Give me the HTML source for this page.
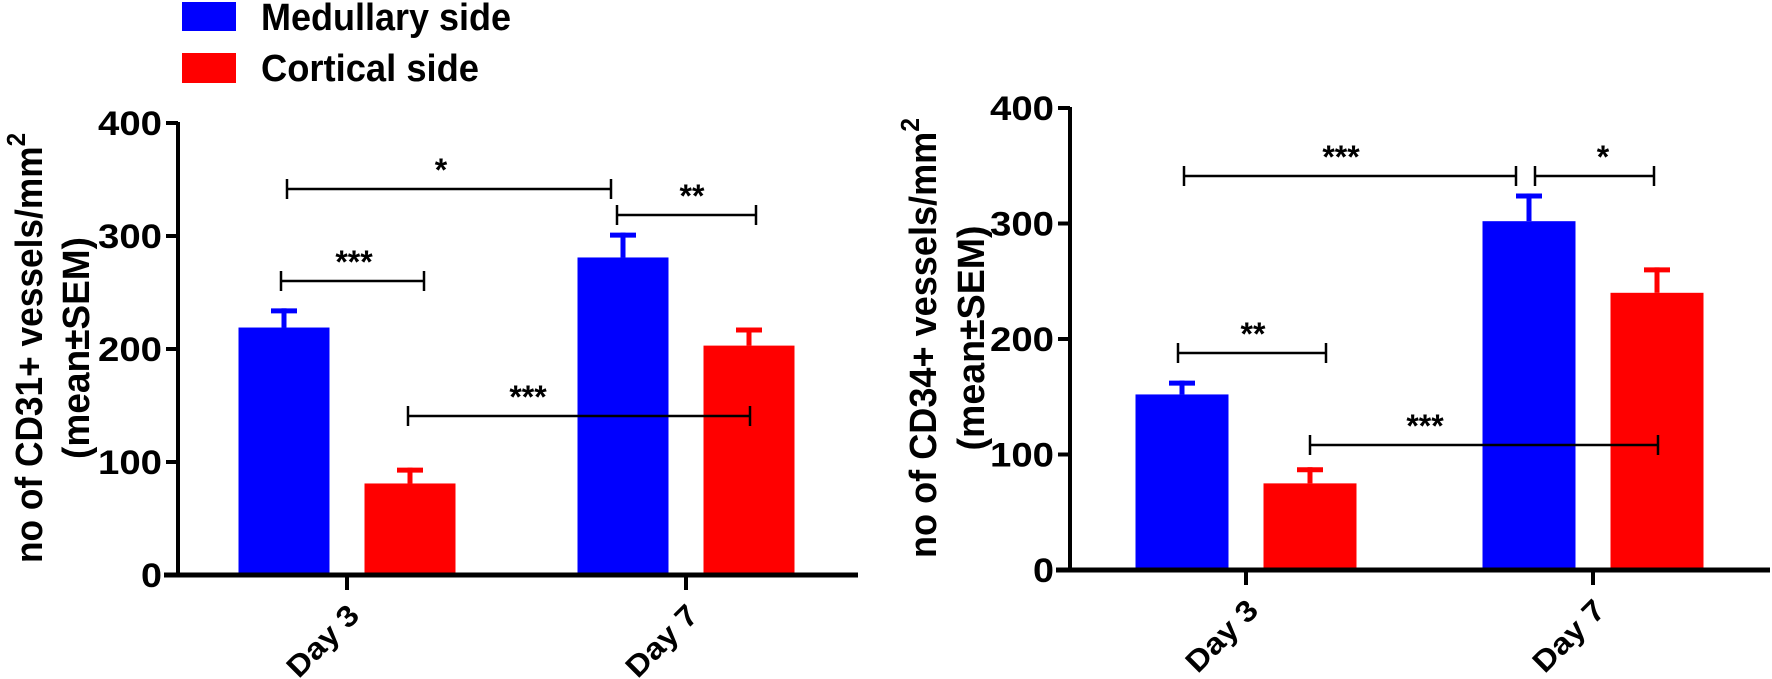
<!DOCTYPE html>
<html><head><meta charset="utf-8"><style>
html,body{margin:0;padding:0;background:#fff;}
svg{display:block;font-family:"Liberation Sans",Arial,sans-serif;font-weight:bold;}
</style></head>
<body>
<svg id="fig" width="1772" height="679" viewBox="0 0 1772 679" xmlns="http://www.w3.org/2000/svg">
<g>
<rect x="182" y="2" width="54" height="29" fill="#0000ff"/>
<text x="261" y="30" font-size="38" textLength="250" lengthAdjust="spacingAndGlyphs">Medullary side</text>
<rect x="182" y="53" width="54" height="30" fill="#ff0000"/>
<text x="261" y="81" font-size="38" textLength="218" lengthAdjust="spacingAndGlyphs">Cortical side</text>
</g>
</svg>
<script>
const categories = ["Day 3", "Day 7"];
const yTicks = [0, 100, 200, 300, 400];
const cd31Medullary = [219, 281];
const cd31Cortical = [81, 203];
const cd31MedullaryErr = [17, 22];
const cd31CorticalErr = [14, 16];
const cd34Medullary = [152, 302];
const cd34Cortical = [75, 240];
const cd34MedullaryErr = [12, 24];
const cd34CorticalErr = [14, 22];
const cd31SigLabels = ["*", "**", "***", "***"];
const cd34SigLabels = ["***", "*", "**", "***"];

const NS = "http://www.w3.org/2000/svg";
const svg = document.getElementById("fig");
function mk(tag, attrs, parent) {
  const e = document.createElementNS(NS, tag);
  for (const k in attrs) e.setAttribute(k, attrs[k]);
  (parent || svg).appendChild(e);
  return e;
}

function drawChart(cfg) {
  const g = mk("g", {});
  
  
  const y = v => cfg.y0 - (v / 400) * (cfg.y0 - cfg.y400);
  const xc = i => cfg.cat0 + i * (cfg.cat1 - cfg.cat0);
  const series = [[cfg.med, cfg.medErr, "#0000ff", -1, "medullary"], [cfg.cor, cfg.corErr, "#ff0000", 1, "cortical"]];
  series.forEach(s => {
    s[0].forEach((v, i) => {
      const cx = xc(i) + s[3] * cfg.offset;
      const r = mk("rect", {x: cx - cfg.bw / 2, y: y(v), width: cfg.bw, height: cfg.y0 - y(v), fill: s[2]}, g);
      
      
      const top = v + s[1][i];
      const st = mk("line", {x1: cx, x2: cx, y1: y(v), y2: y(top), stroke: s[2], "stroke-width": 5}, g);
      
      
      const cp = mk("line", {x1: cx - 13, x2: cx + 13, y1: y(top) + 2.5, y2: y(top) + 2.5, stroke: s[2], "stroke-width": 5}, g);
      
      
    });
  });
  const ya = mk("line", {x1: cfg.ax, x2: cfg.ax, y1: cfg.y400 - 1, y2: cfg.y0 + 2, stroke: "#000", "stroke-width": 4}, g);
  
  
  const xa = mk("line", {x1: cfg.ax - 14, x2: cfg.xend, y1: cfg.y0, y2: cfg.y0, stroke: "#000", "stroke-width": 5}, g);
  
  
  yTicks.forEach(t => {
    const tl = mk("line", {x1: cfg.ax - 12, x2: cfg.ax, y1: y(t), y2: y(t), stroke: "#000", "stroke-width": 4}, g);
    
    
    const tx = mk("text", {x: cfg.ax - 16, y: y(t) + 12, "font-size": 34, "text-anchor": "end"}, g);
    
    
    tx.textContent = t;
    tx.setAttribute('textLength', String(t).length === 3 ? 64 : 21);
    tx.setAttribute('lengthAdjust', 'spacingAndGlyphs');
  });
  categories.forEach((c, i) => {
    const tl = mk("line", {x1: xc(i), x2: xc(i), y1: cfg.y0, y2: cfg.y0 + 15, stroke: "#000", "stroke-width": 4}, g);
    
    
    const tx = mk("text", {x: 0, y: 0, "font-size": 30, "text-anchor": "end", transform: `translate(${xc(i) + 14},${cfg.y0 + 42}) rotate(-45)`, textLength: 88, lengthAdjust: "spacingAndGlyphs"}, g);
    
    
    tx.textContent = c;
  });
  const t1 = mk("text", {x: 0, y: 0, "font-size": 38, "text-anchor": "middle", transform: `translate(${cfg.t1x},${cfg.t1c}) rotate(-90)`, textLength: cfg.t1len, lengthAdjust: "spacingAndGlyphs"}, g);
  
  
  t1.textContent = cfg.title;
  const sup = mk("tspan", {"font-size": 26, dy: -17}, t1);
  sup.textContent = "2";
  const t2 = mk("text", {x: 0, y: 0, "font-size": 38, "text-anchor": "middle", transform: `translate(${cfg.t2x},${cfg.t2c}) rotate(-90)`, textLength: cfg.t2len, lengthAdjust: "spacingAndGlyphs"}, g);
  
  
  t2.textContent = "(mean\u00b1SEM)";
  cfg.sig.forEach((b, k) => {
    const [x1, x2, by, lx] = b;
    const bg = mk("g", {}, g);
    
    
    mk("line", {x1: x1, x2: x2, y1: by, y2: by, stroke: "#000", "stroke-width": 2.5}, bg);
    mk("line", {x1: x1, x2: x1, y1: by - 10, y2: by + 10, stroke: "#000", "stroke-width": 2.5}, bg);
    mk("line", {x1: x2, x2: x2, y1: by - 10, y2: by + 10, stroke: "#000", "stroke-width": 2.5}, bg);
    const lt = mk("text", {x: lx, y: by - 8, "font-size": 32, "text-anchor": "middle"}, bg);
    
    
    lt.textContent = cfg.sigLabels[k];
  });
}

drawChart({name: "cd31-chart", med: cd31Medullary, cor: cd31Cortical, medErr: cd31MedullaryErr, corErr: cd31CorticalErr,
  ax: 178, xend: 858, y0: 575, y400: 123, cat0: 347, cat1: 686, offset: 63, bw: 91,
  title: "no of CD31+ vessels/mm", t1x: 42, t1c: 348, t1len: 430, t2x: 89, t2c: 348, t2len: 222,
  sig: [[287, 611, 189, 441], [617, 756, 215, 692], [281, 424, 281, 354], [408, 750, 416, 528]], sigLabels: cd31SigLabels});
drawChart({name: "cd34-chart", med: cd34Medullary, cor: cd34Cortical, medErr: cd34MedullaryErr, corErr: cd34CorticalErr,
  ax: 1070, xend: 1770, y0: 570, y400: 108, cat0: 1246, cat1: 1593, offset: 64, bw: 93,
  title: "no of CD34+ vessels/mm", t1x: 936, t1c: 338, t1len: 440, t2x: 984, t2c: 338, t2len: 225,
  sig: [[1184, 1516, 176, 1341], [1535, 1654, 176, 1603], [1178, 1326, 353, 1253], [1310, 1658, 445, 1425]], sigLabels: cd34SigLabels});
</script>
</body></html>
